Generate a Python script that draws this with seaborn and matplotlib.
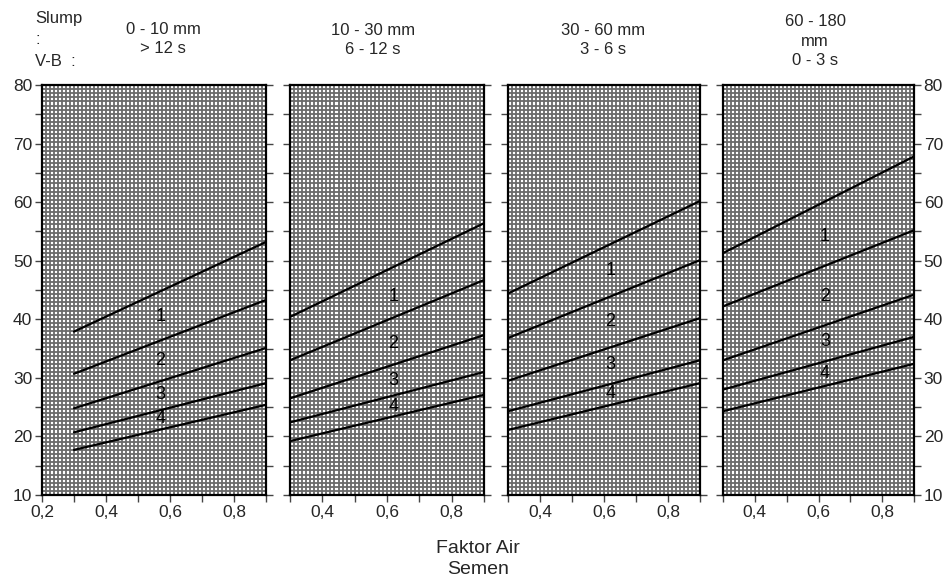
import numpy as np
import pandas as pd
import matplotlib.pyplot as plt
import seaborn as sns
from matplotlib.ticker import MultipleLocator, FuncFormatter

sns.set_style('ticks')
plt.rcParams['font.family'] = ['Liberation Sans', 'DejaVu Sans']

# water-cement ratio at both ends of every curve
fas = [0.3, 0.9]

# strength values (start, end) for the five curves of each panel
panel1 = [[37.9, 53.2], [30.7, 43.3], [24.8, 35.1], [20.7, 29.1], [17.7, 25.4]]
panel2 = [[40.4, 56.4], [33.0, 46.7], [26.5, 37.3], [22.4, 31.0], [19.2, 27.1]]
panel3 = [[44.4, 60.2], [36.8, 50.1], [29.5, 40.2], [24.3, 33.0], [21.1, 29.1]]
panel4 = [[51.3, 67.8], [42.2, 55.2], [33.0, 44.2], [28.0, 37.0], [24.3, 32.4]]
panels = [panel1, panel2, panel3, panel4]

# zone labels 1..4 (x position, y positions)
label_x = [0.57, 0.62, 0.62, 0.62]
label_y = [[40.4, 33.0, 27.2, 23.1],
           [43.9, 35.9, 29.6, 25.1],
           [48.4, 39.6, 32.2, 27.4],
           [54.1, 43.9, 36.2, 30.8]]
zone_names = ['1', '2', '3', '4']

titles = ['0 - 10 mm\n> 12 s', '10 - 30 mm\n6 - 12 s', '30 - 60 mm\n3 - 6 s', '60 - 180\nmm\n0 - 3 s']
title_px = [(163, 39), (373, 40), (603, 40), (815, 41)]

rows = []
for p, curves in enumerate(panels):
    for c, ys in enumerate(curves):
        for x, y in zip(fas, ys):
            rows.append({'panel': p, 'curve': c, 'fas': x, 'strength': y})
df = pd.DataFrame(rows)

W, H = 947, 585
fig = plt.figure(figsize=(W / 100, H / 100), dpi=100)

# axes boxes in pixels: left, right
boxes = [(42, 266), (290, 484), (508, 700), (723, 914)]
xlims = [(0.2, 0.9), (0.3, 0.9), (0.3, 0.9), (0.3, 0.9)]
top, bottom = 85, 495

fmt = FuncFormatter(lambda v, pos: f'{v:.1f}'.replace('.', ','))

for p in range(4):
    l, r = boxes[p]
    ax = fig.add_axes([l / W, 1 - bottom / H, (r - l) / W, (bottom - top) / H])
    ax.set_xlim(*xlims[p])
    ax.set_ylim(10, 80)

    # fine graph-paper grid
    gx = np.arange(xlims[p][0], xlims[p][1] + 1e-9, 0.0125)
    gy = np.arange(10, 80.01, 0.7)
    ax.vlines(gx, 10, 80, color='#6a6a6a', lw=1.3, zorder=1)
    ax.hlines(gy, xlims[p][0], xlims[p][1], color='#6a6a6a', lw=1.3, zorder=1)

    sns.lineplot(data=df[df.panel == p], x='fas', y='strength', hue='curve',
                 palette=['black'] * 5, legend=False, lw=1.6, ax=ax, zorder=3)

    for name, yy in zip(zone_names, label_y[p]):
        ax.text(label_x[p], yy, name, ha='center', va='center', fontsize=13,
                color='black', zorder=4)

    ax.xaxis.set_major_locator(MultipleLocator(0.2))
    ax.xaxis.set_minor_locator(MultipleLocator(0.1))
    ax.xaxis.set_major_formatter(fmt)
    ax.yaxis.set_major_locator(MultipleLocator(10))
    ax.yaxis.set_minor_locator(MultipleLocator(5))
    ax.tick_params(axis='both', which='both', direction='out', length=5,
                   width=1, color='#444444', labelsize=12.5, pad=2)
    ax.tick_params(axis='y', which='both', left=True, right=True,
                   labelleft=(p == 0), labelright=(p == 3))
    ax.set_xlabel('')
    ax.set_ylabel('')
    for s in ax.spines.values():
        s.set_linewidth(1.6)
        s.set_color('black')
        s.set_zorder(5)

    tx, ty = title_px[p]
    fig.text(tx / W, 1 - ty / H, titles[p], ha='center', va='center',
             fontsize=12, linespacing=1.35)

fig.text(35 / W, 1 - 40 / H, 'Slump\n:\nV-B  :', ha='left', va='center',
         fontsize=12, linespacing=1.5)
fig.text(478 / W, 1 - 559 / H, 'Faktor Air\nSemen', ha='center', va='center',
         fontsize=14, linespacing=1.25)

fig.savefig('out.png', dpi=100)
